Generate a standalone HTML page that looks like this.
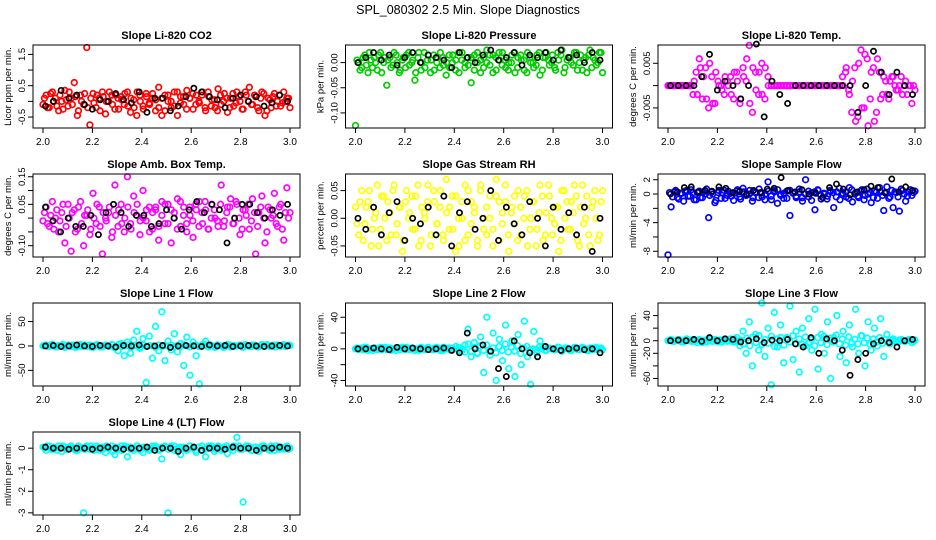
<!DOCTYPE html>
<html><head><meta charset="utf-8"><style>
html,body{margin:0;padding:0;background:#fff;}
svg{display:block;font-family:"Liberation Sans",Arial,sans-serif;}
</style></head><body>
<svg id="chart" width="936" height="540" viewBox="0 0 936 540">
<text x="468" y="14" text-anchor="middle" font-size="12.5">SPL_080302  2.5 Min. Slope Diagnostics</text>
</svg>
<script>
const xTicks=[2.0,2.2,2.4,2.6,2.8,3.0];
const xTickLabels=["2.0","2.2","2.4","2.6","2.8","3.0"];
const titles=["Slope Li-820 CO2","Slope Li-820 Pressure","Slope Li-820 Temp.","Slope Amb. Box Temp.","Slope Gas Stream RH","Slope Sample Flow","Slope Line 1 Flow","Slope Line 2 Flow","Slope Line 3 Flow","Slope Line 4 (LT) Flow"];
const yLabels=["Licor ppm per min.","kPa per min.","degrees C per min.","degrees C per min.","percent per min.","ml/min per min.","ml/min per min.","ml/min per min.","ml/min per min.","ml/min per min."];
const colors=["#ff0000","#00cc00","#ff00ff","#ff00ff","#ffff00","#0000ff","#00ffff","#00ffff","#00ffff","#00ffff"];
const yRanges=[[-0.85,1.8],[-0.13,0.035],[-0.0095,0.0091],[-0.141,0.16],[-0.07,0.08],[-8.8,2.8],[-82,88],[-47,58],[-72,60],[-3.1,0.75]];
const yTicks=[[-0.5,0,0.5,1,1.5],[-0.1,-0.05,0],[-0.005,0,0.005],[-0.1,-0.05,0,0.05,0.1,0.15],[-0.05,0,0.05],[-8,-6,-4,-2,0,2],[-50,0,50],[-40,-20,0,20,40],[-60,-40,-20,0,20,40],[-3,-2,-1,0]];
const yTickLabels=[["-0.5","","0.5","","1.5"],["-0.10","-0.05","0.00"],["-0.005","","0.005"],["-0.10","","","0.05","","0.15"],["-0.05","0.00","0.05"],["-8","","-4","","0","2"],["-50","0","50"],["-40","","0","","40"],["-60","","-20","0","","40"]];
yTickLabels.push(["-3","-2","-1","0"]);

const colorVals=[
[-0.1,0.2,-0.2,0.3,0.1,-0.3,0.0,0.35,-0.15,0.1,0.6,-0.45,0.2,-0.1,1.72,-0.75,0.25,-0.2,0.1,0.3,-0.4,0.0,0.2,-0.25,0.1,0.15,-0.1,0.3,-0.35,0.05,-0.45,0.2,-0.15,0.25,-0.05,0.1,-0.3,0.45,-0.45,0.2,0.0,-0.2,0.3,-0.45,0.15,-0.1,0.35,0.1,-0.25,0.2,-0.05,0.3,-0.3,0.15,0.05,-0.2,0.4,-0.1,0.25,-0.35,0.1,-0.15,0.3,0.0,-0.25,0.2,0.45,-0.1,0.15,-0.3,0.3,-0.45,0.1,-0.2,0.25,0.0,-0.15,0.3,0.1,-0.2],
[-0.125,0.0,-0.01,0.015,-0.02,0.005,0.01,-0.015,0.02,0.0,-0.045,0.01,-0.005,0.015,-0.02,0.005,-0.01,0.02,0.0,-0.035,0.01,-0.015,0.02,0.005,-0.02,0.015,0.0,-0.01,0.01,-0.025,0.015,0.0,-0.015,0.02,0.005,-0.01,0.01,-0.04,0.015,0.0,-0.02,0.01,0.025,-0.005,0.015,-0.015,0.005,0.02,-0.01,0.0,0.015,-0.02,0.01,0.005,-0.015,0.02,0.0,-0.01,0.015,-0.025,0.01,0.02,-0.005,0.015,-0.015,0.005,0.025,-0.01,0.01,0.0,0.02,-0.015,0.015,0.005,-0.02,0.025,0.01,-0.005,0.02,-0.02],
[0,0,0,0,0,0,0,0,-0.002,0.003,0.006,-0.003,0.004,-0.005,0.002,-0.004,0.001,0,-0.002,0.001,0.002,-0.003,0.003,-0.004,0.004,0.001,0.009,-0.006,0.003,-0.002,0.005,-0.003,0.002,0,0,0,0,0,0,0,0,0,0,0,0,0,0,0,0,0,0,0,0,0,0,0,0,0.004,-0.002,0.001,-0.008,0.005,-0.005,0.007,-0.009,0.003,-0.008,0.006,-0.003,0.002,-0.002,0.001,0.002,-0.001,0,-0.002,0.001,0,-0.004,-0.001],
[-0.01,0.04,-0.03,0.06,0.0,-0.05,0.02,-0.09,0.05,-0.12,0.03,-0.04,0.06,-0.1,0.01,-0.06,0.09,-0.02,0.04,-0.13,0.0,0.02,-0.07,0.12,-0.03,0.05,-0.05,0.15,-0.02,0.08,0.01,-0.06,0.1,-0.01,0.04,-0.04,0.03,-0.08,0.06,-0.02,0.05,-0.09,0.02,0.07,-0.03,0.04,-0.05,0.01,-0.07,0.03,0.06,-0.02,0.03,-0.04,0.05,0.0,-0.03,0.12,-0.01,0.04,0.07,-0.02,0.05,-0.06,0.03,0.01,-0.04,0.07,-0.13,0.02,0.08,-0.09,0.04,0.0,0.09,-0.03,0.05,-0.08,0.11,0.02],
[0.02,-0.03,0.05,-0.01,0.03,-0.05,0.0,0.06,-0.02,0.04,-0.04,0.01,0.05,-0.03,0.02,-0.06,0.03,0.0,0.04,-0.02,0.06,-0.04,0.01,0.03,-0.05,0.05,-0.01,0.02,-0.03,0.07,-0.02,0.04,-0.06,0.0,0.03,-0.04,0.05,-0.01,0.02,-0.05,0.06,0.0,-0.03,0.04,-0.02,0.07,-0.04,0.01,0.03,-0.06,0.02,-0.01,0.05,-0.03,0.04,-0.05,0.0,0.03,-0.02,0.06,-0.04,0.01,0.04,-0.03,0.02,-0.06,0.05,0.0,-0.02,0.03,0.06,-0.04,0.02,-0.01,0.04,-0.05,0.03,0.0,-0.03,0.05],
[-8.5,-1.8,0.3,-0.5,0.1,-1.0,0.5,-0.3,0.2,-0.8,0.4,-0.5,0.0,-3.3,0.3,-1.2,0.2,-0.6,0.5,-0.2,0.1,-0.9,0.4,-0.4,0.8,-0.2,0.0,-1.0,0.3,-0.5,0.2,-0.8,1.7,-0.3,0.5,-1.3,0.0,-0.6,0.4,-3.0,0.1,-0.5,0.3,-1.0,2.0,-0.4,0.2,-2.2,0.5,-0.7,0.0,-0.3,0.4,-1.9,0.3,-0.8,0.1,-0.4,0.9,-1.1,0.2,-0.5,0.6,-0.2,0.0,-1.2,0.4,-0.6,0.3,-2.3,1.0,-0.4,-1.9,0.2,-2.4,0.5,-1.0,0.3,-0.2,0.4],
[0,2,-1,3,-2,1,0,-3,2,-1,1,-2,3,0,-1,2,-3,1,0,-2,2,-1,3,-4,-10,5,-20,8,-15,12,30,-5,15,-75,20,-25,40,-10,70,-30,10,-8,25,-12,5,-40,18,-60,8,-20,-78,3,10,-2,1,-3,2,0,-1,3,-2,1,0,2,-3,1,-1,2,0,-2,3,-1,1,0,-2,2,-1,3,0,1],
[0,-1,1,2,-2,0,1,-1,2,0,-1,1,0,-2,1,2,-1,0,1,-2,0,2,-1,1,0,-1,2,0,-2,1,1,-1,0,2,-3,5,25,-10,8,-5,15,-30,40,-8,20,-40,12,-15,30,-25,10,-35,18,-20,35,-10,-45,22,-5,10,3,-2,1,0,-1,2,-3,1,0,-2,2,-1,1,0,-2,1,-1,2,0,-1],
[0,2,-1,1,0,-2,3,1,-1,0,2,-3,1,0,-1,2,-2,1,0,-1,3,-2,5,-8,15,-20,30,-40,10,-15,60,-25,20,-70,45,-10,25,-35,5,55,-30,15,-50,20,-8,35,-15,50,-45,10,-20,30,-60,5,40,-25,15,-35,25,-10,50,-20,8,-40,30,-15,20,-8,35,-25,10,-5,3,-2,1,0,-1,2,-3,1],
[0.05,-0.1,0.1,-0.05,0.0,0.1,-0.15,0.05,-0.05,0.1,0.0,-0.1,0.05,-3.0,0.1,-0.05,0.0,0.1,-0.1,0.05,-0.2,0.0,0.1,-0.3,-0.05,0.1,0.0,-0.4,0.05,-0.1,0.1,0.0,-0.2,0.05,-0.1,0.0,0.1,-0.05,-0.5,0.05,-3.0,0.1,-0.1,0.0,-0.3,0.05,-0.1,0.1,0.0,-0.2,0.05,-0.1,-0.4,0.1,0.0,-0.05,0.1,-0.1,0.05,-0.25,0.0,0.1,0.5,-0.05,-2.5,0.1,0.0,-0.1,0.05,-0.15,0.1,0.0,-0.05,0.1,-0.1,0.0,0.05,-0.05,0.1,0.0]
];
// second batch of coloured points (interleaved in time)
const colorVals2=[
[0.1,-0.2,0.25,0.0,-0.15,0.2,-0.25,0.05,0.3,-0.1,0.15,-0.3,0.0,0.25,-0.2,0.1,-0.05,0.2,-0.3,0.15,0.0,0.3,-0.1,0.2,-0.25,0.05,0.25,-0.15,0.1,-0.2,0.3,0.0,-0.25,0.15,-0.1,0.25,0.05,-0.2,0.1,-0.3,0.2,0.0,-0.15,0.3,-0.05,0.15,-0.25,0.1,0.25,-0.1,0.0,0.2,-0.2,0.3,-0.15,0.05,-0.3,0.2,0.0,0.1,-0.2,0.25,-0.05,0.15,-0.25,0.3,0.0,-0.1,0.2,-0.2,0.1,0.25,-0.3,0.05,0.15,-0.15,0.2,-0.05,0.0,0.1],
[0.005,-0.015,0.01,-0.005,0.02,-0.01,0.0,0.015,-0.02,0.01,0.005,-0.01,0.02,0.0,-0.015,0.01,0.015,-0.005,0.005,-0.02,0.02,0.0,-0.01,0.015,0.005,-0.015,0.01,0.02,-0.005,0.0,-0.01,0.015,0.005,-0.02,0.02,0.0,-0.005,0.01,-0.015,0.02,0.005,-0.01,0.0,0.015,-0.02,0.01,0.02,-0.005,0.005,-0.015,0.0,0.02,-0.01,0.015,0.005,-0.02,0.01,0.0,-0.005,0.02,-0.015,0.01,0.005,0.0,-0.01,0.02,0.015,-0.02,0.005,0.01,-0.005,0.02,0.0,-0.015,0.01,0.015,-0.01,0.005,0.0,0.02],
[0,0,0,0,0,0,0,0,0.001,-0.002,0.004,0.002,-0.003,0.005,-0.004,0.003,0,-0.001,0.002,0,-0.002,0.003,0.001,-0.003,0.002,0.006,-0.004,0.004,-0.001,0.003,-0.002,0.004,0,0,0,0,0,0,0,0,0,0,0,0,0,0,0,0,0,0,0,0,0,0,0,0,0.002,0.003,-0.001,-0.006,0.004,-0.007,0.008,-0.005,0.006,-0.003,0.004,-0.006,0.003,-0.002,0.001,-0.003,0.002,0,-0.001,0.002,0,-0.002,0,0],
[0.02,-0.02,0.01,-0.04,0.03,-0.01,0.05,-0.03,0.0,0.02,-0.05,0.04,-0.02,0.01,0.03,-0.04,0.0,0.05,-0.03,0.02,-0.01,0.04,-0.05,0.01,0.03,-0.02,0.0,0.04,-0.04,0.02,0.05,-0.01,0.0,0.03,-0.05,0.02,0.04,-0.03,0.01,0.05,-0.02,0.03,0.0,-0.04,0.06,0.01,-0.02,0.04,-0.01,0.05,-0.03,0.02,0.06,-0.04,0.0,0.03,-0.01,0.05,-0.03,0.02,0.04,-0.02,0.06,0.0,-0.04,0.03,0.05,-0.01,0.02,-0.03,0.04,0.0,-0.05,0.03,0.01,-0.02,0.04,-0.04,0.02,0.0],
[-0.01,0.03,-0.04,0.02,0.05,-0.02,0.01,-0.05,0.04,0.0,0.03,-0.03,0.06,-0.01,0.02,-0.04,0.05,0.01,-0.02,0.04,-0.05,0.02,0.0,0.06,-0.03,0.03,-0.01,0.05,-0.04,0.01,0.02,-0.02,0.04,-0.05,0.0,0.06,-0.03,0.03,0.01,-0.04,0.05,-0.02,0.02,0.0,-0.05,0.04,0.03,-0.01,0.06,-0.03,0.01,0.04,-0.04,0.02,0.0,0.05,-0.02,0.03,-0.05,0.01,0.04,-0.03,0.06,0.0,-0.01,0.02,-0.04,0.05,0.03,-0.02,0.01,0.04,-0.05,0.06,0.0,-0.03,0.02,0.05,-0.04,0.03],
[0.2,-0.4,0.5,-0.7,0.1,0.4,-0.3,0.6,-0.8,0.2,-0.5,0.3,0.7,-0.2,0.0,-0.9,0.5,0.2,-0.6,0.4,-0.3,0.1,0.6,-0.7,0.3,-0.1,0.5,-0.5,0.2,0.7,-0.4,0.0,0.4,-0.8,0.3,0.6,-0.2,0.1,-0.6,0.5,0.2,-0.3,0.7,-0.5,0.0,0.4,-0.9,0.3,0.6,-0.2,0.1,-0.7,0.5,0.2,-0.4,0.8,-0.1,0.3,-0.6,0.6,0.0,-0.3,0.4,-0.8,0.7,0.2,-0.5,0.3,0.9,-0.2,0.1,-0.6,0.5,0.3,-0.4,0.7,0.0,-0.3,0.6,0.2],
[1,-1,2,0,-2,1,3,-1,0,2,-3,1,-1,2,0,-2,1,3,-2,0,1,-1,2,-2,3,-1,0,2,-3,1,0,-2,2,-1,1,0,-3,2,-1,1,0,2,-2,1,-1,3,0,-2,1,2,-1,0,3,-2,1,-1,2,0,-3,1,2,-1,0,1,-2,3,0,-1,2,-2,1,0,3,-1,2,-2,0,1,-1,2],
[1,0,-1,2,0,-2,1,0,-1,2,1,-2,0,1,-1,0,2,-1,1,0,-2,1,0,2,-1,1,0,-2,2,0,-1,1,3,-2,0,-4,6,-3,2,-6,4,-2,5,-3,1,-5,3,-2,6,-4,2,-3,4,-6,1,3,-2,0,-1,2,0,-2,1,0,-1,2,-1,0,1,-2,0,1,-1,2,0,-2,1,0,-1,1],
[1,-1,0,2,-2,1,0,-1,2,-3,1,0,-2,3,-1,0,1,-2,2,0,-1,3,-2,1,-5,4,-8,6,-3,8,-6,2,-4,7,-9,3,5,-7,4,-2,8,-5,3,-6,6,-4,2,-8,5,-3,7,-6,4,-2,9,-5,3,-7,6,-4,2,-5,8,-3,4,-6,3,-2,5,-4,2,-1,1,0,-2,2,-1,0,1,-1],
[0.0,0.1,-0.05,0.05,-0.1,0.0,0.1,-0.05,0.05,0.0,-0.1,0.1,0.0,-0.05,0.05,0.1,-0.1,0.0,0.05,-0.05,0.1,0.0,-0.15,0.05,0.0,-0.1,0.1,0.05,-0.05,0.0,0.1,-0.1,0.05,0.0,-0.05,0.1,0.0,-0.1,0.05,0.1,-0.05,0.0,0.1,-0.1,0.05,0.0,-0.05,0.1,0.0,-0.1,0.05,0.1,-0.05,0.0,0.1,-0.15,0.05,0.0,-0.05,0.1,0.0,-0.1,0.05,0.1,-0.05,0.0,0.1,-0.1,0.05,0.0,-0.05,0.1,0.0,-0.1,0.05,0.1,-0.05,0.0,0.05,-0.05]
];
const blackVals=[
[-0.15,0.0,0.35,0.1,0.2,-0.1,-0.25,0.05,0.0,0.25,0.05,-0.05,0.3,-0.35,0.1,0.1,-0.3,-0.15,0.15,0.42,0.3,0.15,0.05,-0.2,0.1,0.2,0.0,0.15,-0.15,-0.05,0.2,0.0],
[0.0,0.01,0.02,0.005,0.015,-0.005,0.01,0.02,0.0,0.015,0.01,0.005,-0.01,0.02,0.01,0.0,0.015,0.025,0.005,0.01,0.02,-0.005,0.015,0.01,0.02,0.005,0.025,0.01,0.015,0.0,0.02,0.005],
[0,0,0,0,0.002,0.007,-0.001,0.001,0,-0.003,0,0.0093,-0.007,0.001,-0.002,-0.004,0,0,0,0,0,0,0,0,-0.006,0,0.0077,0.003,-0.002,0.003,0,-0.002],
[0.04,-0.01,-0.05,0.0,-0.03,-0.03,0.01,-0.06,0.02,0.05,0.02,-0.03,0.01,0.01,-0.03,-0.02,0.03,0.0,-0.04,0.03,0.06,0.02,0.05,0.03,-0.09,0.0,0.05,0.05,0.02,0.0,0.03,0.01,0.05],
[0.0,-0.02,0.02,-0.03,0.01,0.03,-0.04,0.0,-0.01,0.02,-0.03,0.04,-0.05,0.01,0.03,-0.02,0.0,0.05,-0.04,0.02,-0.01,-0.03,0.03,0.0,-0.05,0.02,-0.02,0.01,-0.03,0.02,-0.06,0.0],
[0.0,0.3,0.9,1.0,0.3,0.5,0.4,1.0,0.8,0.2,0.4,0.0,0.5,0.2,0.7,0.8,2.3,0.5,0.3,0.6,0.0,0.1,-0.5,0.9,1.4,0.7,-0.1,0.3,0.6,1.1,0.9,0.2,2.1,0.3,1.0,0.5],
[0,1,-1,0,2,0,-1,1,0,-2,1,0,2,-1,0,1,-3,0,1,0,-1,2,0,1,-1,0,1,0,-1,0,1,0],
[0,0,1,0,-1,2,0,1,0,-1,0,1,-2,-5,20,0,5,-3,-25,-35,10,0,-5,-10,3,0,-2,0,1,-1,0,-5],
[0,1,0,2,-1,5,0,3,2,-2,0,3,-3,1,0,2,-5,-10,5,-20,3,0,-15,-55,-30,-20,-5,0,-3,-10,0,2],
[0.05,0.0,0.0,-0.05,0.0,0.0,-0.05,0.0,0.05,0.0,-0.05,0.0,0.0,0.05,-0.1,0.0,0.0,-0.15,0.0,0.05,-0.1,0.0,0.0,-0.05,0.05,0.0,0.0,-0.1,0.0,0.0,0.05,0.0]
];

const NS="http://www.w3.org/2000/svg";
const svg=document.getElementById('chart');
function mk(tag,attrs,parent){const e=document.createElementNS(NS,tag);for(const k in attrs)e.setAttribute(k,attrs[k]);(parent||svg).appendChild(e);return e;}
const colX=[33,345.5,658], rowY=[45,174,303,432], W=267, H=83;

for(let p=0;p<10;p++){
  const L=colX[p%3], T=rowY[Math.floor(p/3)];
  const g=mk('g',{});
  
  
  const xs=v=>L+10+(v-2)*(W-20);
  const [y0,y1]=yRanges[p];
  const ys=v=>T+H-(v-y0)/(y1-y0)*H;
  const t=mk('text',{x:L+W/2,y:T-6,'text-anchor':'middle','font-size':'11','font-weight':'bold'},g);
  t.textContent=titles[p];
  
  
  const yl=mk('text',{x:0,y:0,'text-anchor':'middle','font-size':'9.5',transform:`translate(${L-22},${T+H/2}) rotate(-90)`},g);
  yl.textContent=yLabels[p];
  
  
  const cv=colorVals[p], cv2=colorVals2[p], bv=blackVals[p];
  cv.forEach((v,i)=>{
    const c=mk('circle',{cx:xs(2+i/(cv.length-1)),cy:ys(v),r:2.8,fill:'none',stroke:colors[p],'stroke-width':1.7},g);
    
    
  });
  cv2.forEach((v,i)=>{
    const c=mk('circle',{cx:xs(2.006+0.988*i/(cv2.length-1)),cy:ys(v),r:2.8,fill:'none',stroke:colors[p],'stroke-width':1.7},g);
    
    
  });
  bv.forEach((v,i)=>{
    const c=mk('circle',{cx:xs(2.01+0.98*i/(bv.length-1)),cy:ys(v),r:2.6,fill:'none',stroke:'#000','stroke-width':1.7},g);
    
    
  });
  const box=mk('rect',{x:L,y:T,width:W,height:H,fill:'none',stroke:'#000','stroke-width':1},g);
  
  
  xTicks.forEach((v,i)=>{
    mk('line',{x1:xs(v),x2:xs(v),y1:T+H,y2:T+H+5,stroke:'#000'},g);
    const tl=mk('text',{x:xs(v),y:T+H+17,'text-anchor':'middle','font-size':'10'},g);
    tl.textContent=xTickLabels[i];
    
    
  });
  yTicks[p].forEach((v,i)=>{
    mk('line',{x1:L-5,x2:L,y1:ys(v),y2:ys(v),stroke:'#000'},g);
    const s=yTickLabels[p][i];
    if(s){
      const tl=mk('text',{x:0,y:0,'text-anchor':'middle','font-size':'9.5',transform:`translate(${L-8},${ys(v)}) rotate(-90)`},g);
      tl.textContent=s;
      
      
    }
  });
}
</script>
</body></html>
